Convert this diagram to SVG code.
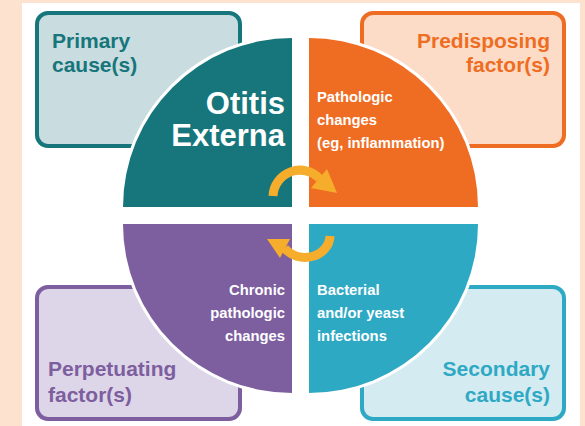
<svg xmlns="http://www.w3.org/2000/svg" width="585" height="426" viewBox="0 0 585 426">
<style>
.box{stroke-width:4}
.lbl{font-family:"Liberation Sans",Arial,sans-serif;font-weight:bold;font-size:21px}
.sm{font-family:"Liberation Sans",Arial,sans-serif;font-weight:bold;font-size:14.8px;fill:#fff}
.big{font-family:"Liberation Sans",Arial,sans-serif;font-weight:bold;font-size:31px;fill:#fff}
.q{stroke:#fff;stroke-width:6;paint-order:stroke}
.arc{fill:none;stroke:#f6ad2b;stroke-width:9}
</style>
<rect x="0" y="0" width="585" height="426" fill="#fde2cf"/>
<rect x="22" y="3" width="558" height="423" fill="#fff"/>
<g id="primary">
<rect class="box" x="37" y="13" width="203" height="133" rx="11" fill="#c9dcdf" stroke="#16767b"/>
<text class="lbl" x="52" y="48" fill="#16767b">Primary</text>
<text class="lbl" x="52" y="72" fill="#16767b">cause(s)</text>
</g>
<g id="predisposing">
<rect class="box" x="362" y="13" width="202" height="133" rx="11" fill="#fcdcc7" stroke="#ef6c23"/>
<text class="lbl" x="550" y="48" fill="#ef6c23" text-anchor="end">Predisposing</text>
<text class="lbl" x="550" y="72" fill="#ef6c23" text-anchor="end">factor(s)</text>
</g>
<g id="perpetuating">
<rect class="box" x="37" y="287" width="203" height="132" rx="11" fill="#ddd6e8" stroke="#7d5e9f"/>
<text class="lbl" x="48" y="376" fill="#7d5e9f">Perpetuating</text>
<text class="lbl" x="48" y="402" fill="#7d5e9f">factor(s)</text>
</g>
<g id="secondary">
<rect class="box" x="362" y="287" width="202" height="132" rx="11" fill="#d5ebf2" stroke="#2ea9c4"/>
<text class="lbl" x="550" y="376" fill="#2ea9c4" text-anchor="end">Secondary</text>
<text class="lbl" x="550" y="402" fill="#2ea9c4" text-anchor="end">cause(s)</text>
</g>
<g id="otitis-externa">
<path class="q" d="M292 207 L123 207 A169 169 0 0 1 292 38 Z" fill="#16767b"/>
<text class="big" x="285" y="114" text-anchor="end">Otitis</text>
<text class="big" x="285" y="146" text-anchor="end">Externa</text>
</g>
<g id="pathologic">
<path class="q" d="M309 207 L309 38 A169 169 0 0 1 478 207 Z" fill="#ef6c23"/>
<text class="sm" x="317" y="102">Pathologic</text>
<text class="sm" x="317" y="125">changes</text>
<text class="sm" x="317" y="148">(eg, inflammation)</text>
</g>
<g id="chronic">
<path class="q" d="M292 224 L292 393 A169 169 0 0 1 123 224 Z" fill="#7d5e9f"/>
<text class="sm" x="285" y="295" text-anchor="end">Chronic</text>
<text class="sm" x="285" y="318" text-anchor="end">pathologic</text>
<text class="sm" x="285" y="341" text-anchor="end">changes</text>
</g>
<g id="infections">
<path class="q" d="M309 224 L478 224 A169 169 0 0 1 309 393 Z" fill="#2ea9c4"/>
<text class="sm" x="317" y="295">Bacterial</text>
<text class="sm" x="317" y="318">and/or yeast</text>
<text class="sm" x="317" y="341">infections</text>
</g>
<g id="connectors">
<path class="arc" d="M273 196 A27 27 0 0 1 319.5 178.5"/>
<polygon points="327,169 337,193 311,188" fill="#f6ad2b"/>
<path class="arc" d="M330 236 A25 22 0 0 1 284.5 248"/>
<polygon points="267,239 290,239 280,258" fill="#f6ad2b"/>
</g>
</svg>
